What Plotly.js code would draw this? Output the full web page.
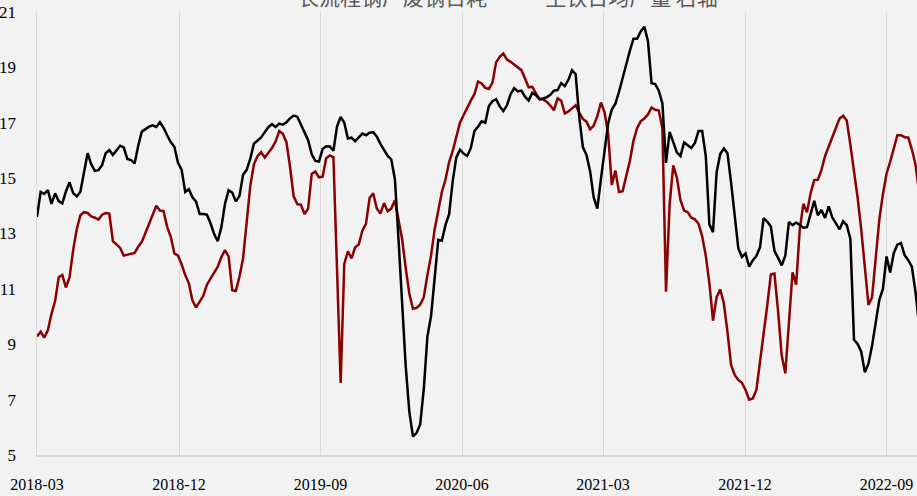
<!DOCTYPE html>
<html><head><meta charset="utf-8">
<script src="https://cdn.plot.ly/plotly-3.0.1.min.js"></script>
<style>html,body{margin:0;padding:0;background:#f2f2f2;}#chart{width:917px;height:496px;}</style>
</head><body><div id="chart"></div>
<script>
// weekly series, first week 2018-03-01
const startDate = '2018-03-01';
const seriesNames = ['长流程钢厂废钢日耗', '生铁日均产量 右轴'];
const scrapDaily = [9.28,9.45,9.24,9.5,10.1,10.55,11.42,11.5,11.05,11.41,12.4,13.16,13.66,13.77,13.74,13.62,13.57,13.5,13.68,13.74,
13.72,12.72,12.61,12.48,12.2,12.24,12.26,12.3,12.52,12.7,13.02,13.35,13.7,14.0,13.83,13.81,13.24,12.88,12.28,12.2,
11.89,11.5,11.2,10.58,10.33,10.56,10.75,11.15,11.37,11.57,11.8,12.15,12.4,12.17,10.95,10.92,11.44,12.1,13.52,14.72,
15.5,15.79,15.94,15.74,15.92,16.09,16.32,16.7,16.6,16.3,15.4,14.34,14.06,14.04,13.7,13.9,15.15,15.24,15.03,15.05,
15.72,15.82,15.75,11.5,7.6,11.9,12.36,12.1,12.5,12.6,13.1,13.35,14.28,14.45,13.9,13.72,14.1,13.8,13.9,14.2,
13.55,12.8,11.75,10.82,10.28,10.31,10.43,10.7,11.5,12.2,13.15,13.85,14.5,14.95,15.58,15.98,16.5,17.0,17.27,17.56,
17.8,18.03,18.49,18.42,18.26,18.22,18.45,19.18,19.38,19.5,19.28,19.2,19.1,19.0,18.9,18.6,18.28,18.3,18.09,17.84,
17.84,17.76,17.62,17.45,17.88,17.8,17.34,17.41,17.52,17.63,17.37,17.14,17.04,16.76,16.9,17.24,17.73,17.38,16.6,14.75,
15.27,14.5,14.53,15.04,15.62,16.35,16.8,17.05,17.15,17.3,17.55,17.47,17.44,16.8,10.9,14.05,15.46,15.02,14.2,13.83,
13.77,13.57,13.51,13.35,12.9,12.2,11.2,9.85,10.7,10.98,10.47,9.45,8.25,7.89,7.71,7.61,7.35,7.0,7.04,7.35,
8.3,9.45,10.4,11.52,11.55,10.2,8.6,7.95,9.7,11.6,11.15,13.15,14.07,13.77,14.45,14.93,14.94,15.3,15.8,16.15,
16.49,16.83,17.15,17.25,17.08,16.2,15.26,14.3,13.15,11.9,10.42,10.7,12.0,13.5,14.42,15.16,15.59,16.1,16.55,16.55,
16.48,16.47,16.04,15.5,14.5];
const ironDaily = [13.6,14.5,14.43,14.57,14.07,14.45,14.17,14.09,14.52,14.85,14.46,14.34,14.51,15.25,15.9,15.5,15.26,15.29,15.47,15.9,
16.01,15.84,16.0,16.17,16.11,15.69,15.65,15.53,16.17,16.68,16.77,16.86,16.91,16.85,17.02,16.82,16.55,16.3,16.13,15.55,
15.31,14.5,14.6,14.31,14.15,13.7,13.7,13.68,13.37,12.98,12.72,13.23,14.07,14.56,14.48,14.16,14.35,15.12,15.3,15.7,
16.24,16.34,16.47,16.66,16.84,16.95,16.84,16.97,16.93,17.02,17.16,17.26,17.22,16.94,16.67,16.37,15.86,15.62,15.6,16.05,
16.15,16.14,15.99,16.87,17.21,17.0,16.43,16.46,16.33,16.46,16.61,16.55,16.64,16.66,16.5,16.24,16.03,15.8,15.68,14.96,
12.8,10.3,8.2,6.56,5.67,5.8,6.1,7.4,9.28,10.02,11.5,12.77,12.74,13.31,13.7,14.9,15.75,16.03,15.89,15.8,
16.08,16.7,16.86,17.05,17.0,17.6,17.78,17.85,17.59,17.42,17.63,18.03,18.25,18.13,18.16,17.94,17.8,18.08,18.0,17.86,
17.88,17.92,18.01,18.16,18.18,18.43,18.32,18.55,18.9,18.75,17.2,16.12,15.84,15.25,14.3,13.9,14.97,16.05,16.98,17.48,
17.69,18.12,18.63,19.14,19.6,20.03,20.03,20.3,20.47,19.95,18.43,18.4,18.16,17.7,15.55,16.67,16.28,15.93,15.8,16.29,
16.19,16.09,16.27,16.7,16.7,15.8,13.33,13.05,15.21,15.87,16.07,15.9,14.84,13.6,12.47,12.15,12.28,11.8,12.03,12.19,
12.5,13.55,13.43,13.25,12.37,12.12,11.85,12.2,13.42,13.3,13.4,13.31,13.21,13.23,13.66,14.18,13.66,13.85,13.56,13.98,
13.58,13.35,13.15,13.44,13.3,12.8,9.16,9.01,8.73,7.99,8.3,8.95,9.77,10.6,11.0,12.17,11.59,12.29,12.6,12.66,
12.22,12.04,11.8,10.9,9.7];
const yTicks = [5,7,9,11,13,15,17,19,21];

function weekDates(n){
  const out=[]; const d0=new Date(startDate+'T00:00:00Z');
  for(let i=0;i<n;i++){const d=new Date(d0.getTime()+i*7*86400000);out.push(d.toISOString().slice(0,10));}
  return out;
}
const xs = weekDates(scrapDaily.length);

const legendFont = {family:'Noto Sans CJK SC', size:21, color:'#595959'};
const traces = [
  {x: xs, y: scrapDaily, name: seriesNames[0], type:'scatter', mode:'lines',
   line:{color:'#8b0000', width:2.5}, yaxis:'y', legend:'legend'},
  {x: xs, y: ironDaily, name: seriesNames[1], type:'scatter', mode:'lines',
   line:{color:'#000000', width:2.5}, yaxis:'y2', legend:'legend2'}
];
const layout = {
  width:917, height:496,
  paper_bgcolor:'#f2f2f2', plot_bgcolor:'#f2f2f2',
  margin:{l:37, r:0, t:12, b:41, autoexpand:false},
  font:{family:'Liberation Serif, serif', size:16, color:'#000'},
  showlegend:true,
  legend:{orientation:'h', x:0.251, xanchor:'left', y:1.034, yanchor:'middle',
    font:legendFont, bgcolor:'rgba(0,0,0,0)'},
  legend2:{orientation:'h', x:0.532, xanchor:'left', y:1.034, yanchor:'middle',
    font:legendFont, bgcolor:'rgba(0,0,0,0)'},
  xaxis:{type:'date', range:['2018-03-01','2022-10-30'], tick0:'2018-03-01', dtick:'M9',
    tickformat:'%Y-%m', showgrid:true, gridcolor:'#d9d9d9', gridwidth:1,
    showline:true, linecolor:'#d9d9d9', linewidth:1.5, ticks:'', ticklabelstandoff:14,
    zeroline:false, tickfont:{family:'Liberation Serif, serif', size:16, color:'#000'}},
  yaxis:{range:[5,21], tickvals:yTicks, showgrid:false, showline:true, linecolor:'#d9d9d9', linewidth:1.5,
    ticks:'', zeroline:false, ticklabelstandoff:16,
    tickfont:{family:'Liberation Serif, serif', size:17, color:'#000'}},
  yaxis2:{range:[5,21], overlaying:'y', side:'right', showticklabels:false, showgrid:false,
    showline:false, zeroline:false, ticks:''}
};
Plotly.newPlot('chart', traces, layout, {displayModeBar:false, staticPlot:true});
</script>
</body></html>
